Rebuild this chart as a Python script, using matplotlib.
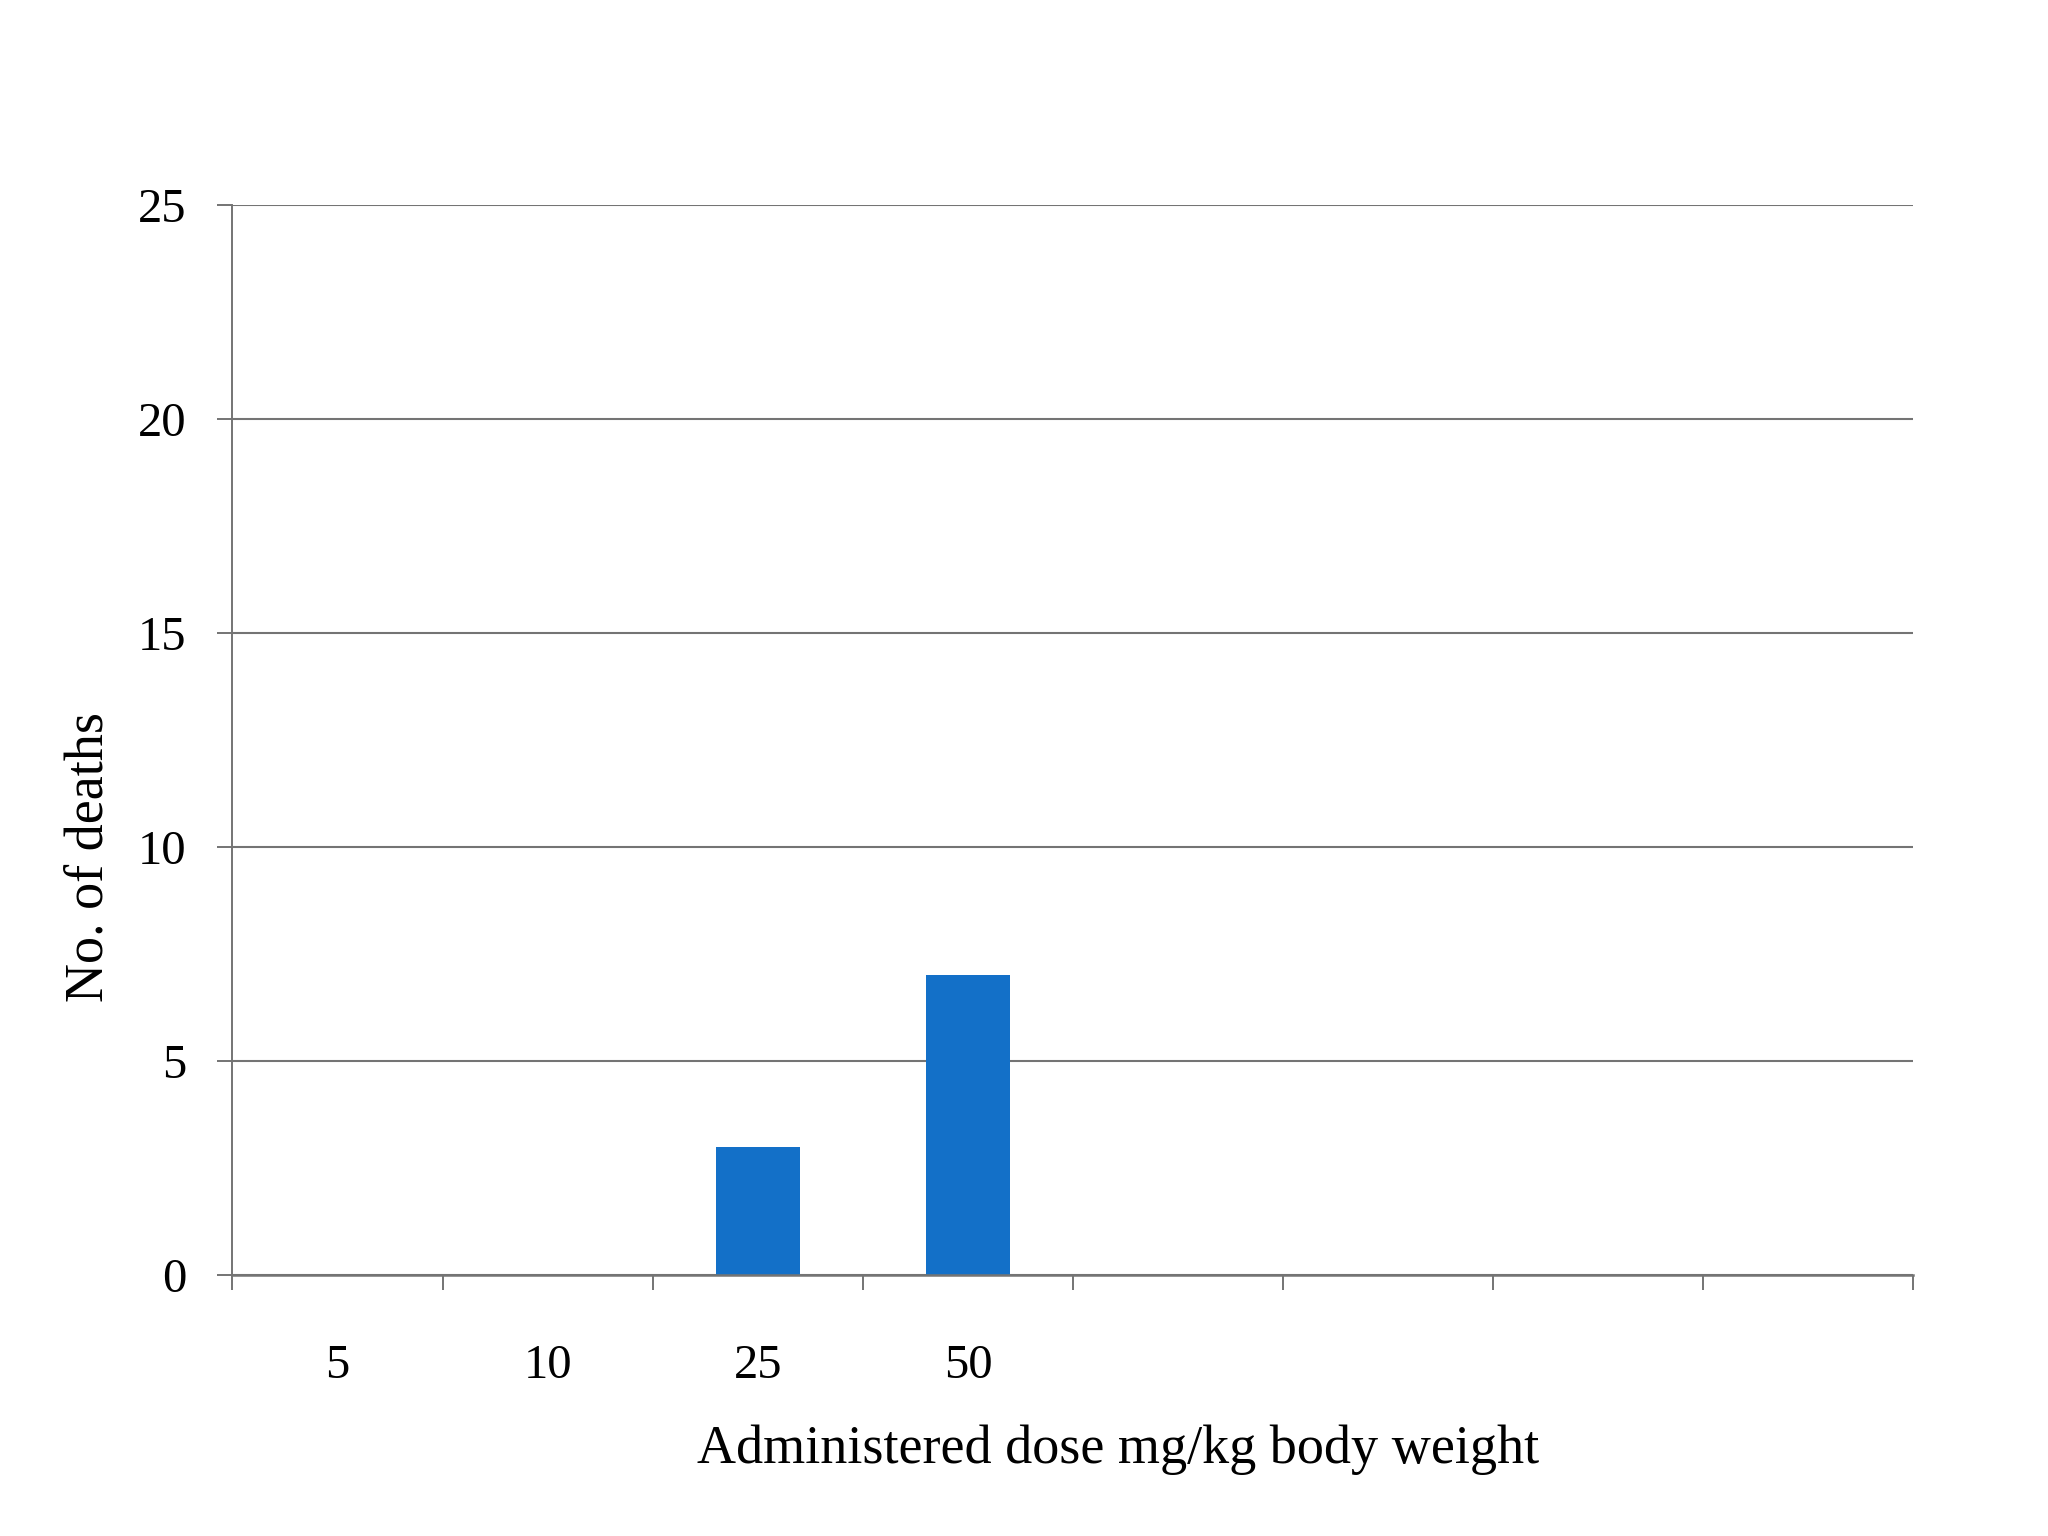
import matplotlib.pyplot as plt
import numpy as np

# data
doses = ["5", "10", "25", "50", "", "", "", ""]
deaths = [0, 0, 3, 7, 0, 0, 0, 0]
y_ticks = [0, 5, 10, 15, 20, 25]

plt.rcParams['font.family'] = ['Liberation Serif', 'DejaVu Serif']

fig = plt.figure(figsize=(20.48, 15.36), dpi=100)
ax = fig.add_axes([0.1135, 0.170, 0.9343 - 0.1135, 0.8665 - 0.170])

x = np.arange(len(doses))
ax.bar(x, deaths, width=0.4, color="#1370c8", zorder=3)

ax.set_xlim(-0.5, len(doses) - 0.5)
ax.set_ylim(0, 25)

# y axis with gridlines
line_col = "#747474"
ax.set_yticks(y_ticks)
ax.set_yticklabels([str(v) for v in y_ticks])
ax.yaxis.grid(True, color=line_col, linewidth=1.5)
ax.tick_params(axis="y", direction="out", length=11, width=1.4,
               color=line_col, pad=22, labelsize=35)

# x axis: tick marks between categories, labels at centers
ax.set_xticks(np.arange(len(doses) + 1) - 0.5)
ax.set_xticklabels([])
ax.set_xticks(x, minor=True)
ax.set_xticklabels(doses, minor=True)
ax.tick_params(axis="x", which="major", direction="out", length=11,
               width=1.4, color=line_col)
ax.tick_params(axis="x", which="minor", length=0, pad=50, labelsize=35)

for s in ["top", "right"]:
    ax.spines[s].set_visible(False)
ax.spines["left"].set_color(line_col)
ax.spines["left"].set_linewidth(1.4)
ax.spines["bottom"].set_color(line_col)
ax.spines["bottom"].set_linewidth(1.8)
ax.spines["bottom"].set_zorder(4)

fig.text(0.546, 0.056, "Administered dose mg/kg body weight",
         ha="center", va="center", fontsize=39)
fig.text(0.0434, 0.442, "No. of deaths", ha="center", va="center",
         rotation=90, fontsize=39)

fig.savefig("out.png", dpi=100, facecolor="white")
